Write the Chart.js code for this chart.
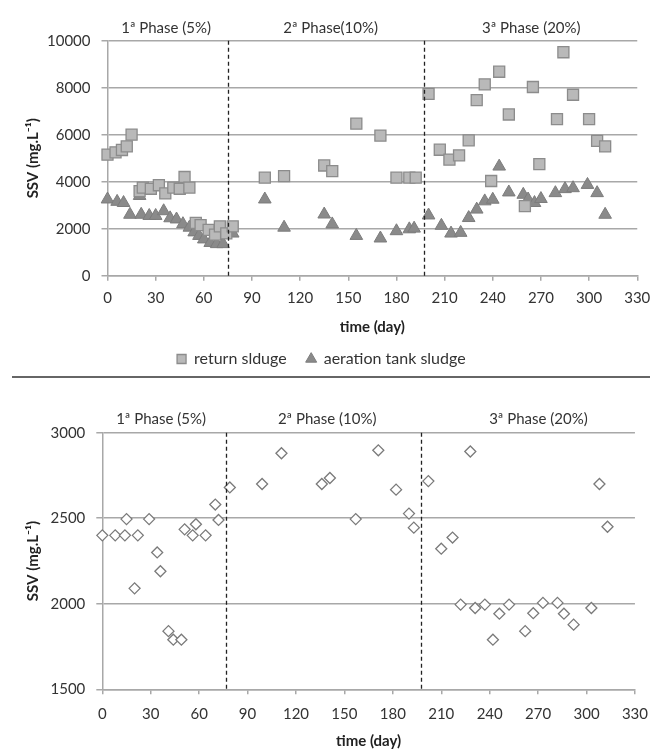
<!DOCTYPE html>
<html><head><meta charset="utf-8">
<script src="https://cdn.jsdelivr.net/npm/chart.js@4/dist/chart.umd.min.js"></script>
<style>
html,body{margin:0;padding:0;background:#fff;}
#wrap{position:relative;width:659px;height:756px;overflow:hidden;background:#fff;}
#c1{position:absolute;left:0;top:0;}
#c2{position:absolute;left:0;top:384px;}
#sep{position:absolute;left:12px;top:376px;width:638px;height:0;border-top:2px solid #666;z-index:5;}
</style></head><body>
<div id="wrap">
<canvas id="c1" width="659" height="377"></canvas>
<div id="sep"></div>
<canvas id="c2" width="659" height="372"></canvas>
</div>
<script>
// ---------- data ----------
const dayTicks = [0,30,60,90,120,150,180,210,240,270,300,330];
const topYTicks = [0,2000,4000,6000,8000,10000];
const botYTicks = [1500,2000,2500,3000];

const phaseLabelsTop = ['1ª Phase (5%)','2ª Phase(10%)','3ª Phase (20%)'];
const phaseLabelsBot = ['1ª Phase (5%)','2ª Phase (10%)','3ª Phase (20%)'];
const phaseCentersTop = [36.5,139,264];
const phaseCentersBot = [36.4,139.3,270.2];
const phaseBoundsTop = [75,197];
const phaseBoundsBot = [76.5,197.5];

const returnDays = [0,5,9,12,15,20,22,27,32,36,41,45,48,51,55,58,63,67,70,74,78,98,110,135,140,155,170,180,188,192,200,207,213,219,225,230,235,239,244,250,260,265,269,280,284,290,300,305,310];
const returnSSV  = [5150,5250,5350,5500,6000,3600,3750,3700,3850,3500,3750,3700,4200,3750,2250,2150,1950,1750,2100,1800,2100,4170,4240,4690,4450,6470,5960,4170,4170,4170,7740,5360,4940,5120,5760,7470,8140,4030,8680,6860,2960,8030,4750,6660,9510,7700,6660,5740,5500];

const aerDays = [0,6,10,14,20,21,26,30,35,39,43,47,51,54,57,60,64,68,72,78,98,110,135,140,155,170,180,188,191,200,208,214,220,225,230,235,240,244,250,259,262,266,270,279,285,290,299,305,310];
const aerSSV  = [3250,3150,3100,2600,3400,2600,2550,2550,2750,2450,2400,2200,2050,1850,1700,1550,1400,1350,1350,1800,3250,2050,2610,2190,1700,1590,1900,1980,2010,2570,2130,1800,1830,2460,2820,3170,3240,4650,3550,3450,3250,3100,3270,3520,3690,3730,3870,3520,2600];

const ssvDays = [0,8,14,15,20,22,29,34,36,41,44,49,51,56,58,64,70,72,79,99,111,136,141,157,171,182,190,193,202,210,217,222,228,231,237,242,246,252,262,267,273,282,286,292,303,308,313];
const ssvVals = [2400,2400,2400,2495,2090,2400,2495,2300,2190,1840,1790,1790,2435,2400,2465,2400,2580,2490,2680,2700,2880,2700,2735,2495,2897,2667,2527,2445,2717,2322,2387,1995,2890,1975,1995,1790,1942,1995,1840,1945,2005,2005,1942,1878,1975,2700,2450];

// ---------- styling ----------
const FONT = 'Lato, "Open Sans", "DejaVu Sans", sans-serif';
Chart.defaults.font.family = FONT;
Chart.defaults.color = '#333';
const GRID = '#a8a8a8';
const TXT = '#333';

const pts = (xs, ys) => xs.map((x,i)=>({x, y: ys[i]}));

const phasePlugin = {
  id: 'phases',
  afterDatasetsDraw(chart, args, opts) {
    const {ctx, chartArea, scales:{x}} = chart;
    ctx.save();
    ctx.strokeStyle = '#222';
    ctx.lineWidth = 1.3;
    ctx.setLineDash([4,3]);
    opts.bounds.forEach(d => {
      const px = Math.round(x.getPixelForValue(d)) + 0.5;
      ctx.beginPath();
      ctx.moveTo(px, chartArea.top);
      ctx.lineTo(px, chartArea.bottom);
      ctx.stroke();
    });
    ctx.setLineDash([]);
    ctx.fillStyle = TXT;
    ctx.font = '15px ' + FONT;
    ctx.textAlign = 'center';
    ctx.textBaseline = 'middle';
    opts.labels.forEach((t,i) => ctx.fillText(t, x.getPixelForValue(opts.centers[i]), chartArea.top + opts.dy));
    ctx.restore();
  }
};

function xScale(h, tickPad, titlePadBottom) {
  return {
    type: 'linear', min: 0, max: 330,
    afterBuildTicks: s => { s.ticks = dayTicks.map(v => ({value: v})); },
    ticks: {padding: tickPad, font: {size: 15}, color: TXT, maxRotation: 0, callback: v => String(v)},
    grid: {drawOnChartArea: false, drawTicks: true, tickLength: 5, color: GRID, lineWidth: 1.5},
    border: {color: GRID, width: 1.5},
    title: {display: true, text: 'time (day)', font: {size: 15, weight: 'bold'}, color: '#222',
            padding: {top: 0, bottom: titlePadBottom}},
    afterFit: s => { s.height = h; }
  };
}
function yScale(min, max, ticksArr, w) {
  return {
    min, max,
    afterBuildTicks: s => { s.ticks = ticksArr.map(v => ({value: v})); },
    ticks: {padding: 11, font: {size: 15}, color: TXT, callback: v => String(v)},
    grid: {color: GRID, lineWidth: 1.5, tickLength: 6},
    border: {color: GRID, width: 1.5},
    title: {display: true, text: 'SSV (mg.L\u207B\u00B9)', font: {size: 15, weight: 'bold'}, color: '#222',
            padding: {top: 24, bottom: 0}},
    afterFit: s => { s.width = w; }
  };
}

// ---------- top chart ----------
new Chart(document.getElementById('c1'), {
  type: 'scatter',
  data: {
    datasets: [
      {label: 'return slduge', data: pts(returnDays, returnSSV), pointStyle: 'rect', pointRadius: 7.8,
       backgroundColor: '#b9b9b9', borderColor: '#8c8c8c', borderWidth: 1.3, clip: false},
      {label: 'aeration tank sludge', data: pts(aerDays, aerSSV), pointStyle: 'triangle', pointRadius: 7.3,
       backgroundColor: '#8a8a8a', borderColor: '#7c7c7c', borderWidth: 1, clip: false}
    ]
  },
  options: {
    responsive: false, animation: false,
    layout: {padding: {left: 0, right: 16.3, top: 40.7, bottom: 0}},
    scales: {
      x: xScale(332 - 276.7, 8.7, -5),
      y: yScale(0, 10000, topYTicks, 107.5)
    },
    plugins: {
      legend: {position: 'bottom', labels: {usePointStyle: true, boxWidth: 9, boxHeight: 9, padding: 20,
               font: {size: 16}, color: TXT}},
      tooltip: {enabled: false},
      phases: {bounds: phaseBoundsTop, labels: phaseLabelsTop, centers: phaseCentersTop, dy: -12.7}
    }
  },
  plugins: [phasePlugin]
});

// ---------- bottom chart ----------
new Chart(document.getElementById('c2'), {
  type: 'scatter',
  data: {
    datasets: [
      {label: 'SSV', data: pts(ssvDays, ssvVals), pointStyle: 'rectRot', pointRadius: 5.5,
       backgroundColor: '#ffffff', borderColor: '#7a7a7a', borderWidth: 1.3, clip: false}
    ]
  },
  options: {
    responsive: false, animation: false,
    layout: {padding: {left: 0, right: 21.4, top: 48.7, bottom: 0}},
    scales: {
      x: xScale(372 - 305.3, 11, 6),
      y: yScale(1500, 3000, botYTicks, 102.3)
    },
    plugins: {
      legend: {display: false},
      tooltip: {enabled: false},
      phases: {bounds: phaseBoundsBot, labels: phaseLabelsBot, centers: phaseCentersBot, dy: -13.7}
    }
  },
  plugins: [phasePlugin]
});
</script>
</body></html>
